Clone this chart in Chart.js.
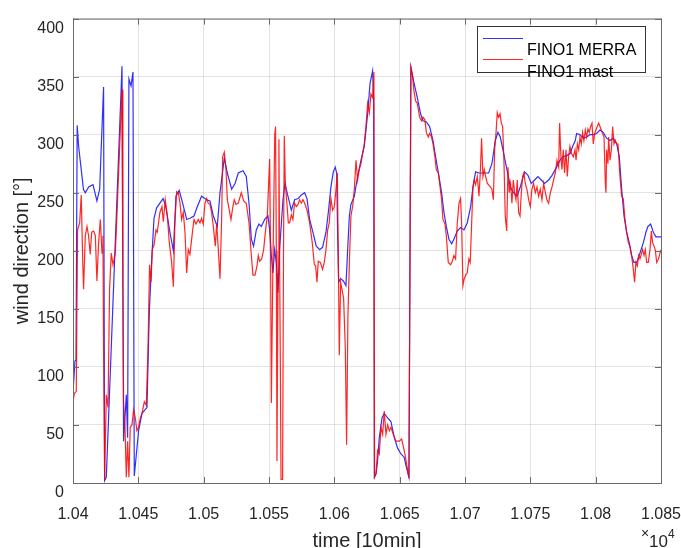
<!DOCTYPE html>
<html>
<head>
<meta charset="utf-8">
<title>FINO1 wind direction</title>
<script src="https://cdn.jsdelivr.net/npm/chart.js@4.4.1/dist/chart.umd.min.js"></script>
<style>
  html, body { margin: 0; padding: 0; background: #fff; }
  #wrap { width: 681px; height: 548px; }
</style>
</head>
<body>
<div id="wrap"><canvas id="windChart" width="681" height="548"></canvas></div>
<script>
// --- DATA ---
// time in 10-min steps, direction in degrees

const merraTime = [
  10400, 10401.5, 10402.3, 10403.2, 10404.3, 10408, 10409.4, 10412, 10415.3, 10418.3,
  10420.4, 10423.4, 10424.2, 10425.5, 10437.5, 10438.7, 10440.8, 10441.8, 10442.8, 10444.4,
  10445.9, 10446.9, 10450.2, 10452.8, 10456.6, 10458.4, 10460.4, 10462, 10464, 10466.5,
  10469, 10471, 10474.2, 10476.8, 10478.8, 10481.3, 10483.9, 10487, 10489.5, 10492.6,
  10495.1, 10498.4, 10502.3, 10504.8, 10507.4, 10510.4, 10512.5, 10515.8, 10518.1, 10521.4,
  10524, 10526.5, 10530.1, 10532.6, 10534.7, 10536.5, 10538.2, 10540.3, 10542.3, 10544.1,
  10546.7, 10549.2, 10550.5, 10551.8, 10553, 10554.3, 10555.6, 10556.9, 10558.1, 10560.7,
  10562.2, 10564.5, 10567.1, 10569.6, 10572.2, 10574.7, 10577.3, 10579.1, 10581.1, 10583.6,
  10586.2, 10588.8, 10591, 10593.6, 10595.6, 10597.4, 10599.2, 10600.7, 10601.8, 10602.5,
  10603.3, 10604.8, 10606.9, 10608.9, 10610.2, 10611.5, 10612.7, 10615.3, 10617.8, 10620.4,
  10622.9, 10625.5, 10627.3, 10629.3, 10630.1, 10630.6, 10631.9, 10633.1, 10634.4, 10636.5,
  10638.2, 10640.8, 10643.3, 10645.9, 10648.4, 10651, 10653.5, 10654.6, 10657.1, 10658.6,
  10660.9, 10663.5, 10666, 10667.8, 10670.4, 10672.9, 10675.5, 10677.5, 10680.1, 10682.1,
  10683.9, 10685.7, 10687.7, 10689.8, 10691.5, 10694.1, 10696.6, 10699.2, 10701.7, 10704.3,
  10706.1, 10708.1, 10710.7, 10714.5, 10718.1, 10720.6, 10723.2, 10725.2, 10727, 10729.6,
  10732.1, 10734.7, 10737.2, 10739.8, 10742.3, 10745.6, 10748.2, 10750.7, 10753.3, 10755.8,
  10758.4, 10760.9, 10764, 10766.6, 10769.6, 10772.2, 10774.7, 10778, 10780.6, 10782.4,
  10784.4, 10785.4, 10788, 10790.5, 10793.1, 10795.6, 10798.2, 10800.7, 10803.3, 10805.8,
  10808.4, 10811, 10813.5, 10816.1, 10818.1, 10819.9, 10821.7, 10823.7, 10825.7, 10827.5,
  10829.3, 10831.4, 10833.9, 10836.5, 10838.5, 10840, 10842.1, 10844.1, 10846.1, 10850
];
const merraDir = [
  78, 105, 106, 308, 290, 253, 250, 255, 257, 243,
  253, 341, 2, 5, 359, 36, 76, 39, 348, 342,
  354, 6, 45, 60, 65, 147, 196, 228, 237, 241,
  245, 238, 216, 200, 247, 252, 241, 227, 228, 230,
  238, 247, 244, 243, 230, 221, 250, 280, 267, 253,
  258, 267, 269, 264, 241, 210, 204, 218, 223, 221,
  227, 230, 218, 196, 181, 201, 190, 164, 201, 244,
  258, 247, 235, 244, 245, 248, 250, 245, 227, 216,
  204, 201, 203, 216, 235, 255, 268, 272, 267, 216,
  173, 176, 174, 170, 201, 230, 240, 247, 264, 278,
  290, 318, 344, 355, 329, 5, 8, 19, 39, 56,
  60, 56, 53, 39, 30, 25, 22, 16, 5, 358,
  345, 332, 318, 312, 311, 307, 295, 281, 264, 250,
  233, 221, 210, 206, 210, 217, 220, 218, 224, 238,
  255, 268, 267, 267, 267, 275, 295, 302, 298, 284,
  270, 255, 250, 247, 255, 268, 265, 258, 261, 264,
  261, 258, 261, 265, 271, 277, 281, 282, 284, 290,
  295, 301, 300, 297, 298, 300, 300, 301, 304, 302,
  297, 295, 297, 292, 281, 253, 230, 216, 207, 196,
  190, 190, 198, 207, 216, 221, 223, 216, 212, 212
];

const mastTime = [
  10400, 10401, 10402.5, 10403.5, 10405.1, 10406.3, 10407.4, 10408.1, 10409.4, 10410.7,
  10411.9, 10413.2, 10414.3, 10415.8, 10417.1, 10418.3, 10419.6, 10420.9, 10422.2, 10422.9,
  10423.4, 10424.2, 10425.5, 10426.8, 10428, 10429.3, 10430.6, 10432.4, 10433.6, 10435.4,
  10437.5, 10438.2, 10438.7, 10439.8, 10440.8, 10441.8, 10442.8, 10443.8, 10445.1, 10446.4,
  10447.7, 10448.9, 10450.2, 10451.5, 10452.8, 10454.6, 10456.1, 10457.4, 10458.6, 10459.7,
  10460.7, 10462, 10463.5, 10464.5, 10466.5, 10468.1, 10469.1, 10470.6, 10472.2, 10473.7,
  10475.5, 10476.8, 10478, 10479.3, 10480.6, 10481.9, 10483.1, 10484.4, 10485.7, 10487,
  10488.2, 10489.5, 10491.6, 10492.6, 10494.1, 10495.9, 10497.2, 10498.4, 10499.7, 10501,
  10502.3, 10503.5, 10504.8, 10506.1, 10507.4, 10508.9, 10510, 10511.2, 10512.5, 10513.8,
  10514.5, 10515.8, 10517.1, 10518.1, 10519.6, 10520.9, 10522.2, 10523.4, 10524.7, 10526.5,
  10528.8, 10530.6, 10532.6, 10534.7, 10536.5, 10537.7, 10539.3, 10540.8, 10541.8, 10542.8,
  10544.4, 10545.9, 10547.4, 10548.7, 10550.5, 10551.2, 10551.8, 10552.9, 10554.4, 10555,
  10555.6, 10556.1, 10556.9, 10557.6, 10558.2, 10558.6, 10559.2, 10560.4, 10561.1, 10561.7,
  10562.5, 10563.7, 10564.8, 10565.8, 10567.1, 10568.3, 10569.6, 10570.9, 10572.2, 10573.4,
  10574.7, 10576, 10577.3, 10579.1, 10581.1, 10583.1, 10584.7, 10585.7, 10586.7, 10587.7,
  10589.3, 10591, 10592.3, 10593.6, 10594.9, 10596.1, 10597.4, 10598.7, 10600, 10601.3,
  10602.3, 10603, 10603.8, 10604.8, 10605.8, 10607.1, 10608.4, 10609.4, 10610.4, 10611.5,
  10612.7, 10614, 10615.3, 10616.6, 10617.8, 10619.1, 10620.4, 10621.7, 10622.9, 10624.2,
  10625.5, 10626.8, 10628, 10629.3, 10630.3, 10630.8, 10631.9, 10633.1, 10634.4, 10635.7,
  10637, 10638.2, 10639.5, 10640.8, 10642.1, 10643.3, 10645.1, 10647.2, 10649.7, 10651.5,
  10654, 10655.8, 10657.1, 10658.6, 10659.7, 10660.9, 10662.2, 10663.5, 10665.3, 10666.8,
  10667.8, 10669.3, 10670.4, 10671.9, 10672.9, 10674.4, 10675.5, 10677, 10678, 10679.6,
  10680.6, 10682.1, 10683.1, 10684.7, 10685.7, 10687.2, 10689, 10690.3, 10691.5, 10692.8,
  10694.1, 10695.4, 10696.6, 10697.4, 10698.4, 10699.4, 10700.5, 10701.7, 10703, 10704,
  10705.1, 10706.1, 10707.1, 10708.1, 10709.4, 10710.7, 10711.7, 10712.7, 10713.7, 10714.8,
  10715.8, 10717.1, 10719.4, 10720.6, 10721.7, 10722.7, 10723.7, 10724.7, 10725.7, 10726.8,
  10727.8, 10728.8, 10729.8, 10730.8, 10731.9, 10732.9, 10733.9, 10734.9, 10735.9, 10737,
  10738, 10739, 10740, 10741, 10742.1, 10743.1, 10744.1, 10745.1, 10746.1, 10747.4,
  10748.7, 10750, 10751.2, 10752.5, 10753.8, 10755.1, 10756.3, 10757.6, 10758.9, 10760.2,
  10761.5, 10762.7, 10764, 10765.3, 10766.6, 10767.8, 10769.1, 10770.4, 10771.7, 10772.4,
  10773.4, 10774.2, 10775.2, 10776.2, 10777.3, 10778.3, 10779.3, 10780.3, 10781.4, 10782.9,
  10784.2, 10785, 10786, 10787, 10788, 10789, 10790, 10791, 10792.1, 10793.1,
  10794.1, 10795.1, 10796.1, 10797.2, 10798.2, 10799.2, 10800.2, 10801.2, 10802.3, 10803.3,
  10804.3, 10805.3, 10806.4, 10807.4, 10807.9, 10808.4, 10809.4, 10809.9, 10811, 10812,
  10813, 10814, 10815, 10816.1, 10817.1, 10818.6, 10819.9, 10821.1, 10822.4, 10823.7,
  10825, 10826.2, 10827.5, 10828.8, 10829.8, 10830.8, 10831.9, 10832.9, 10833.9, 10834.9,
  10835.9, 10837, 10838, 10839, 10840.3, 10841.6, 10842.6, 10843.6, 10844.6, 10845.6,
  10846.7, 10848, 10850
];
const mastDir = [
  70, 77, 79, 218, 224, 248, 193, 167, 213, 221,
  213, 197, 216, 217, 213, 174, 207, 227, 198, 213,
  116, 3, 76, 65, 167, 198, 188, 198, 230, 281,
  339, 167, 70, 48, 5, 36, 5, 48, 50, 63,
  56, 45, 48, 56, 60, 70, 67, 116, 188, 173,
  201, 205, 218, 216, 233, 238, 225, 244, 230, 207,
  190, 169, 224, 251, 250, 241, 227, 233, 216, 181,
  201, 197, 218, 227, 223, 227, 224, 228, 223, 241,
  245, 241, 240, 233, 221, 204, 224, 201, 176, 230,
  281, 285, 270, 244, 235, 227, 237, 244, 240, 241,
  250, 243, 241, 224, 196, 179, 179, 187, 196, 191,
  193, 201, 218, 230, 279, 200, 69, 180, 300, 307,
  200, 19, 180, 296, 179, 116, 3, 3, 201, 299,
  258, 241, 224, 224, 231, 227, 241, 238, 240, 244,
  241, 244, 241, 235, 224, 207, 188, 187, 173, 191,
  190, 184, 190, 201, 218, 224, 245, 235, 238, 253,
  267, 201, 110, 173, 167, 159, 116, 33, 144, 190,
  230, 238, 253, 278, 261, 270, 275, 284, 292, 307,
  327, 319, 335, 332, 354, 5, 8, 28, 25, 48,
  42, 62, 42, 50, 45, 48, 42, 36, 36, 38,
  25, 13, 4, 358, 352, 338, 329, 327, 315, 312,
  315, 313, 302, 298, 301, 298, 292, 281, 270, 267,
  258, 244, 227, 223, 213, 190, 188, 191, 196, 193,
  224, 241, 245, 224, 170, 176, 179, 181, 193, 190,
  224, 255, 261, 257, 264, 247, 267, 297, 264, 270,
  264, 258, 255, 253, 244, 287, 301, 319, 315, 318,
  310, 307, 278, 230, 217, 272, 250, 258, 241, 261,
  250, 244, 261, 233, 230, 250, 264, 267, 258, 253,
  244, 238, 253, 258, 250, 255, 247, 253, 244, 258,
  250, 244, 241, 250, 255, 261, 267, 278, 272, 310,
  281, 270, 287, 267, 287, 264, 281, 290, 284, 281,
  287, 278, 292, 287, 298, 292, 302, 295, 304, 298,
  305, 302, 307, 310, 292, 301, 304, 307, 310, 307,
  304, 301, 298, 258, 250, 287, 275, 298, 278, 287,
  307, 292, 295, 292, 292, 264, 247, 245, 227, 216,
  207, 204, 196, 184, 173, 190, 187, 196, 193, 197,
  201, 196, 201, 190, 190, 201, 217, 207, 204, 201,
  190, 193, 201
];

// --- AXES / LABELS ---
const xTicks = [10400, 10450, 10500, 10550, 10600, 10650, 10700, 10750, 10800, 10850];
const xTickLabels = ['1.04', '1.045', '1.05', '1.055', '1.06', '1.065', '1.07', '1.075', '1.08', '1.085'];
const yTicks = [0, 50, 100, 150, 200, 250, 300, 350, 400];
const seriesNames = ['FINO1 MERRA', 'FINO1 mast'];

const FONT = '"Liberation Sans", Arial, Helvetica, sans-serif';
const TEXT_COLOR = '#262626';
const TICK_LEN = 6;

function toPoints(times, values) {
    const n = Math.min(times.length, values.length);
    const pts = [];
    for (let i = 0; i < n; i++) pts.push({ x: times[i], y: values[i] });
    return pts;
}

// --- MATLAB-ish box, inner ticks, legend and exponent label ---
const matlabDecor = {
    id: 'matlabDecor',
    afterDatasetsDraw(chart) {
        const { ctx, chartArea: a, scales } = chart;
        ctx.save();
        ctx.strokeStyle = '#6a6a6a';
        ctx.lineWidth = 1;
        ctx.beginPath();
        xTicks.forEach(v => {
            const px = Math.round(scales.x.getPixelForValue(v)) + 0.5;
            ctx.moveTo(px, a.bottom); ctx.lineTo(px, a.bottom - TICK_LEN);
            ctx.moveTo(px, a.top); ctx.lineTo(px, a.top + TICK_LEN);
        });
        yTicks.forEach(v => {
            const py = Math.round(scales.y.getPixelForValue(v)) + 0.5;
            ctx.moveTo(a.left, py); ctx.lineTo(a.left + TICK_LEN, py);
            ctx.moveTo(a.right, py); ctx.lineTo(a.right - TICK_LEN, py);
        });
        ctx.stroke();
        ctx.strokeRect(a.left + 0.5, a.top + 0.5, a.right - a.left, a.bottom - a.top);

        // legend box (top right)
        const lx = 477, ly = 26, lw = 168, lh = 46;
        ctx.fillStyle = '#ffffff';
        ctx.fillRect(lx, ly, lw, lh);
        ctx.strokeStyle = '#333333';
        ctx.strokeRect(lx + 0.5, ly + 0.5, lw, lh);

        const ds = chart.data.datasets;
        ctx.lineWidth = 1.2;
        ctx.strokeStyle = ds[0].borderColor;
        ctx.beginPath(); ctx.moveTo(483, 38.5); ctx.lineTo(523, 38.5); ctx.stroke();
        ctx.strokeStyle = ds[1].borderColor;
        ctx.beginPath(); ctx.moveTo(483, 59.5); ctx.lineTo(523, 59.5); ctx.stroke();

        ctx.fillStyle = '#000000';
        ctx.font = '16px ' + FONT;
        ctx.textAlign = 'left';
        ctx.textBaseline = 'alphabetic';
        ctx.fillText(seriesNames[0], 527, 55);
        ctx.fillText(seriesNames[1], 527, 77);

        // x10^4 exponent
        ctx.fillStyle = TEXT_COLOR;
        ctx.font = '14px ' + FONT;
        ctx.fillText('\u00d7', 641, 538);
        ctx.font = '17px ' + FONT;
        ctx.fillText('10', 649, 547);
        ctx.font = '12px ' + FONT;
        ctx.fillText('4', 668, 538);
        ctx.restore();
    }
};

Chart.defaults.font.family = FONT;
Chart.defaults.color = TEXT_COLOR;

const ctx = document.getElementById('windChart').getContext('2d');
const windChart = new Chart(ctx, {
    type: 'line',
    data: {
        datasets: [
            {
                label: seriesNames[0],
                data: toPoints(merraTime, merraDir),
                borderColor: 'rgba(10, 10, 255, 0.85)',
                borderWidth: 1.2,
                pointRadius: 0,
                tension: 0,
                order: 1
            },
            {
                label: seriesNames[1],
                data: toPoints(mastTime, mastDir),
                borderColor: 'rgba(255, 0, 0, 0.85)',
                borderWidth: 1.2,
                pointRadius: 0,
                tension: 0,
                order: 0
            }
        ]
    },
    options: {
        responsive: false,
        animation: false,
        events: [],
        layout: { padding: { left: 0, top: 15, right: 20, bottom: 0 } },
        plugins: {
            legend: { display: false },
            tooltip: { enabled: false }
        },
        scales: {
            x: {
                type: 'linear',
                min: 10400,
                max: 10850,
                afterBuildTicks: s => { s.ticks = xTicks.map(v => ({ value: v })); },
                afterFit: s => { s.height = 65; s.paddingLeft = 0; s.paddingRight = 0; },
                ticks: {
                    autoSkip: false,
                    maxRotation: 0,
                    padding: 22,
                    font: { size: 16 },
                    callback: (v, i) => xTickLabels[i]
                },
                grid: { color: 'rgba(0,0,0,0.11)', drawTicks: false },
                border: { display: false },
                title: {
                    display: true,
                    text: 'time [10min]',
                    font: { size: 20 },
                    padding: { top: 0, bottom: -5 }
                }
            },
            y: {
                min: 0,
                max: 400,
                afterBuildTicks: s => { s.ticks = yTicks.map(v => ({ value: v })); },
                afterFit: s => { s.width = 73; },
                ticks: {
                    padding: 9,
                    labelOffset: 10,
                    font: { size: 16 }
                },
                grid: { color: 'rgba(0,0,0,0.11)', drawTicks: false },
                border: { display: false },
                title: {
                    display: true,
                    text: 'wind direction [\u00b0]',
                    font: { size: 20 },
                    padding: { top: 10, bottom: 0 }
                }
            }
        }
    },
    plugins: [matlabDecor]
});
</script>
</body>
</html>
